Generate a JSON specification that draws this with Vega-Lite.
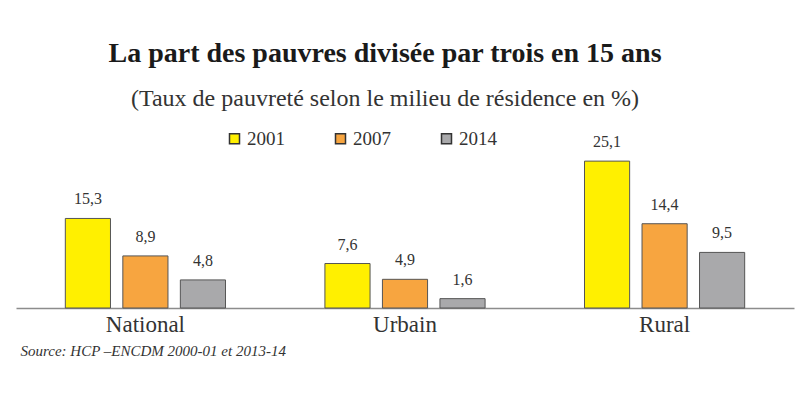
{
  "$schema": "https://vega.github.io/schema/vega-lite/v6.json",
  "width": 778,
  "height": 158,
  "autosize": {"type": "none"},
  "padding": {"left": 16, "right": 6, "top": 150, "bottom": 92},
  "background": "white",
  "config": {
    "view": {"stroke": null},
    "locale": {"number": {"decimal": ",", "thousands": " ", "grouping": [3], "currency": ["", " €"]}},
    "font": "Liberation Serif"
  },
  "title": {
    "text": "La part des pauvres divisée par trois en 15 ans",
    "subtitle": "(Taux de pauvreté selon le milieu de résidence en %)",
    "font": "Liberation Serif",
    "fontSize": 28,
    "fontWeight": "bold",
    "color": "#1a1a1a",
    "subtitleFont": "Liberation Serif",
    "subtitleFontSize": 24,
    "subtitleColor": "#333333",
    "subtitlePadding": 19,
    "anchor": "middle",
    "frame": "group",
    "dx": -20,
    "offset": 18
  },
  "data": {
    "values": [
      {"milieu": "National", "annee": "2001", "taux": 15.3},
      {"milieu": "National", "annee": "2007", "taux": 8.9},
      {"milieu": "National", "annee": "2014", "taux": 4.8},
      {"milieu": "Urbain", "annee": "2001", "taux": 7.6},
      {"milieu": "Urbain", "annee": "2007", "taux": 4.9},
      {"milieu": "Urbain", "annee": "2014", "taux": 1.6},
      {"milieu": "Rural", "annee": "2001", "taux": 25.1},
      {"milieu": "Rural", "annee": "2007", "taux": 14.4},
      {"milieu": "Rural", "annee": "2014", "taux": 9.5}
    ]
  },
  "encoding": {
    "x": {
      "field": "milieu",
      "type": "nominal",
      "sort": ["National", "Urbain", "Rural"],
      "scale": {"paddingInner": 0.383, "paddingOuter": 0.19},
      "axis": {
        "title": "Source: HCP –ENCDM 2000-01 et 2013-14",
        "titleFont": "Liberation Serif",
        "titleFontStyle": "italic",
        "titleFontWeight": "normal",
        "titleFontSize": 15,
        "titleColor": "#333333",
        "titleAnchor": "start",
        "titleAlign": "left",
        "titleX": 4,
        "titlePadding": 7,
        "labelAngle": 0,
        "labelFont": "Liberation Serif",
        "labelFontSize": 23,
        "labelColor": "#333333",
        "labelPadding": 5,
        "ticks": false,
        "domainColor": "#8c8c8c",
        "domainWidth": 1.5
      }
    },
    "xOffset": {
      "field": "annee",
      "type": "nominal",
      "scale": {"paddingInner": 0.215, "paddingOuter": 0}
    },
    "y": {
      "field": "taux",
      "type": "quantitative",
      "scale": {"domain": [0, 27]},
      "axis": null
    }
  },
  "layer": [
    {
      "mark": {"type": "bar", "stroke": "#555555", "strokeWidth": 1},
      "encoding": {
        "color": {
          "field": "annee",
          "type": "nominal",
          "scale": {"domain": ["2001", "2007", "2014"], "range": ["#FFF000", "#F7A540", "#A9A9AB"]},
          "legend": {
            "title": null,
            "orient": "none",
            "legendX": 209,
            "legendY": -21,
            "direction": "horizontal",
            "columns": 3,
            "columnPadding": 46,
            "symbolType": "square",
            "symbolSize": 100,
            "symbolStrokeColor": "#333333",
            "symbolStrokeWidth": 1.5,
            "labelFont": "Liberation Serif",
            "labelFontSize": 19,
            "labelColor": "#333333",
            "labelOffset": 3
          }
        }
      }
    },
    {
      "mark": {"type": "text", "baseline": "alphabetic", "dy": -14, "font": "Liberation Serif", "fontSize": 16, "color": "#333333"},
      "encoding": {
        "text": {"field": "taux", "type": "quantitative", "format": ".1f"}
      }
    }
  ]
}
